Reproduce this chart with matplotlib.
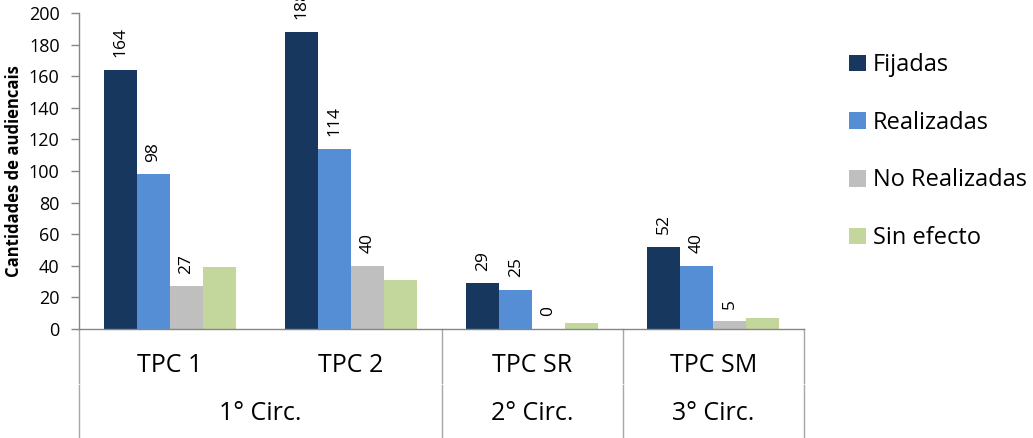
import matplotlib
matplotlib.use("Agg")
import matplotlib.pyplot as plt
import matplotlib.transforms as mtransforms
from matplotlib.patches import Patch
import numpy as np

plt.rcParams['font.family'] = ['Open Sans', 'DejaVu Sans']

categories = ["TPC 1", "TPC 2", "TPC SR", "TPC SM"]
groups = ["1° Circ.", "2° Circ.", "3° Circ."]
group_spans = [(0, 1), (2, 2), (3, 3)]
series_names = ["Fijadas", "Realizadas", "No Realizadas", "Sin efecto"]
fijadas = [164, 188, 29, 52]
realizadas = [98, 114, 25, 40]
no_realizadas = [27, 40, 0, 5]
sin_efecto = [39, 31, 4, 7]
labeled = [True, True, True, False]
colors = ["#17375E", "#558ED5", "#BFBFBF", "#C3D69B"]
yticks = list(range(0, 201, 20))

values = [fijadas, realizadas, no_realizadas, sin_efecto]

W, H = 1033, 438
fig = plt.figure(figsize=(W / 100, H / 100), dpi=100)
ax = fig.add_axes([79 / W, (H - 329) / H, 725 / W, 316 / H])

x = np.arange(len(categories))
bw = 0.182
for i, (name, vals, col) in enumerate(zip(series_names, values, colors)):
    pos = x + (i - 1.5) * bw
    ax.bar(pos, vals, width=bw, color=col, label=name, edgecolor='none', zorder=2)
    if labeled[i]:
        for p, v in zip(pos, vals):
            ax.annotate(str(v), (p, v), xytext=(0, 9), textcoords='offset points',
                        rotation=90, ha='center', va='bottom', fontsize=12.5,
                        annotation_clip=False, color='black')

ax.set_xlim(-0.5, len(categories) - 0.5)
ax.set_ylim(0, 200)
ax.set_yticks(yticks)
ax.tick_params(axis='y', labelsize=13, length=6, width=1, color='#868686', direction='out', pad=8)
ax.set_xticks([])
for s in ['top', 'right']:
    ax.spines[s].set_visible(False)
ax.spines['left'].set_color('#868686')
ax.spines['bottom'].set_color('#868686')
ax.spines['left'].set_linewidth(1)
ax.spines['bottom'].set_linewidth(1)

ax.set_ylabel("Cantidades de audiencais", fontsize=12, fontweight='bold', labelpad=4)

# multi-level category axis
trans = mtransforms.blended_transform_factory(ax.transData, ax.transAxes)
row1_y = -37 / 316
row2_y = -84 / 316
bottom_y = -109 / 316
gap_top = -53.5 / 316
gap_bot = -56 / 316
for xi, c in zip(x, categories):
    ax.text(xi, row1_y, c, transform=trans, ha='center', va='center', fontsize=18)
for g, (a, b) in zip(groups, group_spans):
    ax.text((a + b) / 2, row2_y, g, transform=trans, ha='center', va='center', fontsize=18)
dividers = [-0.5, 1.5, 2.5, 3.5]
for d in dividers:
    ax.plot([d, d], [0, gap_top], transform=trans, color='#A6A6A6', lw=1, clip_on=False)
    ax.plot([d, d], [gap_bot, bottom_y], transform=trans, color='#A6A6A6', lw=1, clip_on=False)

handles = [Patch(facecolor=c, edgecolor='none') for c in colors]
fig.legend(handles, series_names, loc='upper left', bbox_to_anchor=(840 / W, 1 - 44 / H),
           frameon=False, fontsize=17, handlelength=0.7, handleheight=0.7,
           handletextpad=0.3, labelspacing=1.42, borderaxespad=0)

fig.savefig("out.png", dpi=100)
